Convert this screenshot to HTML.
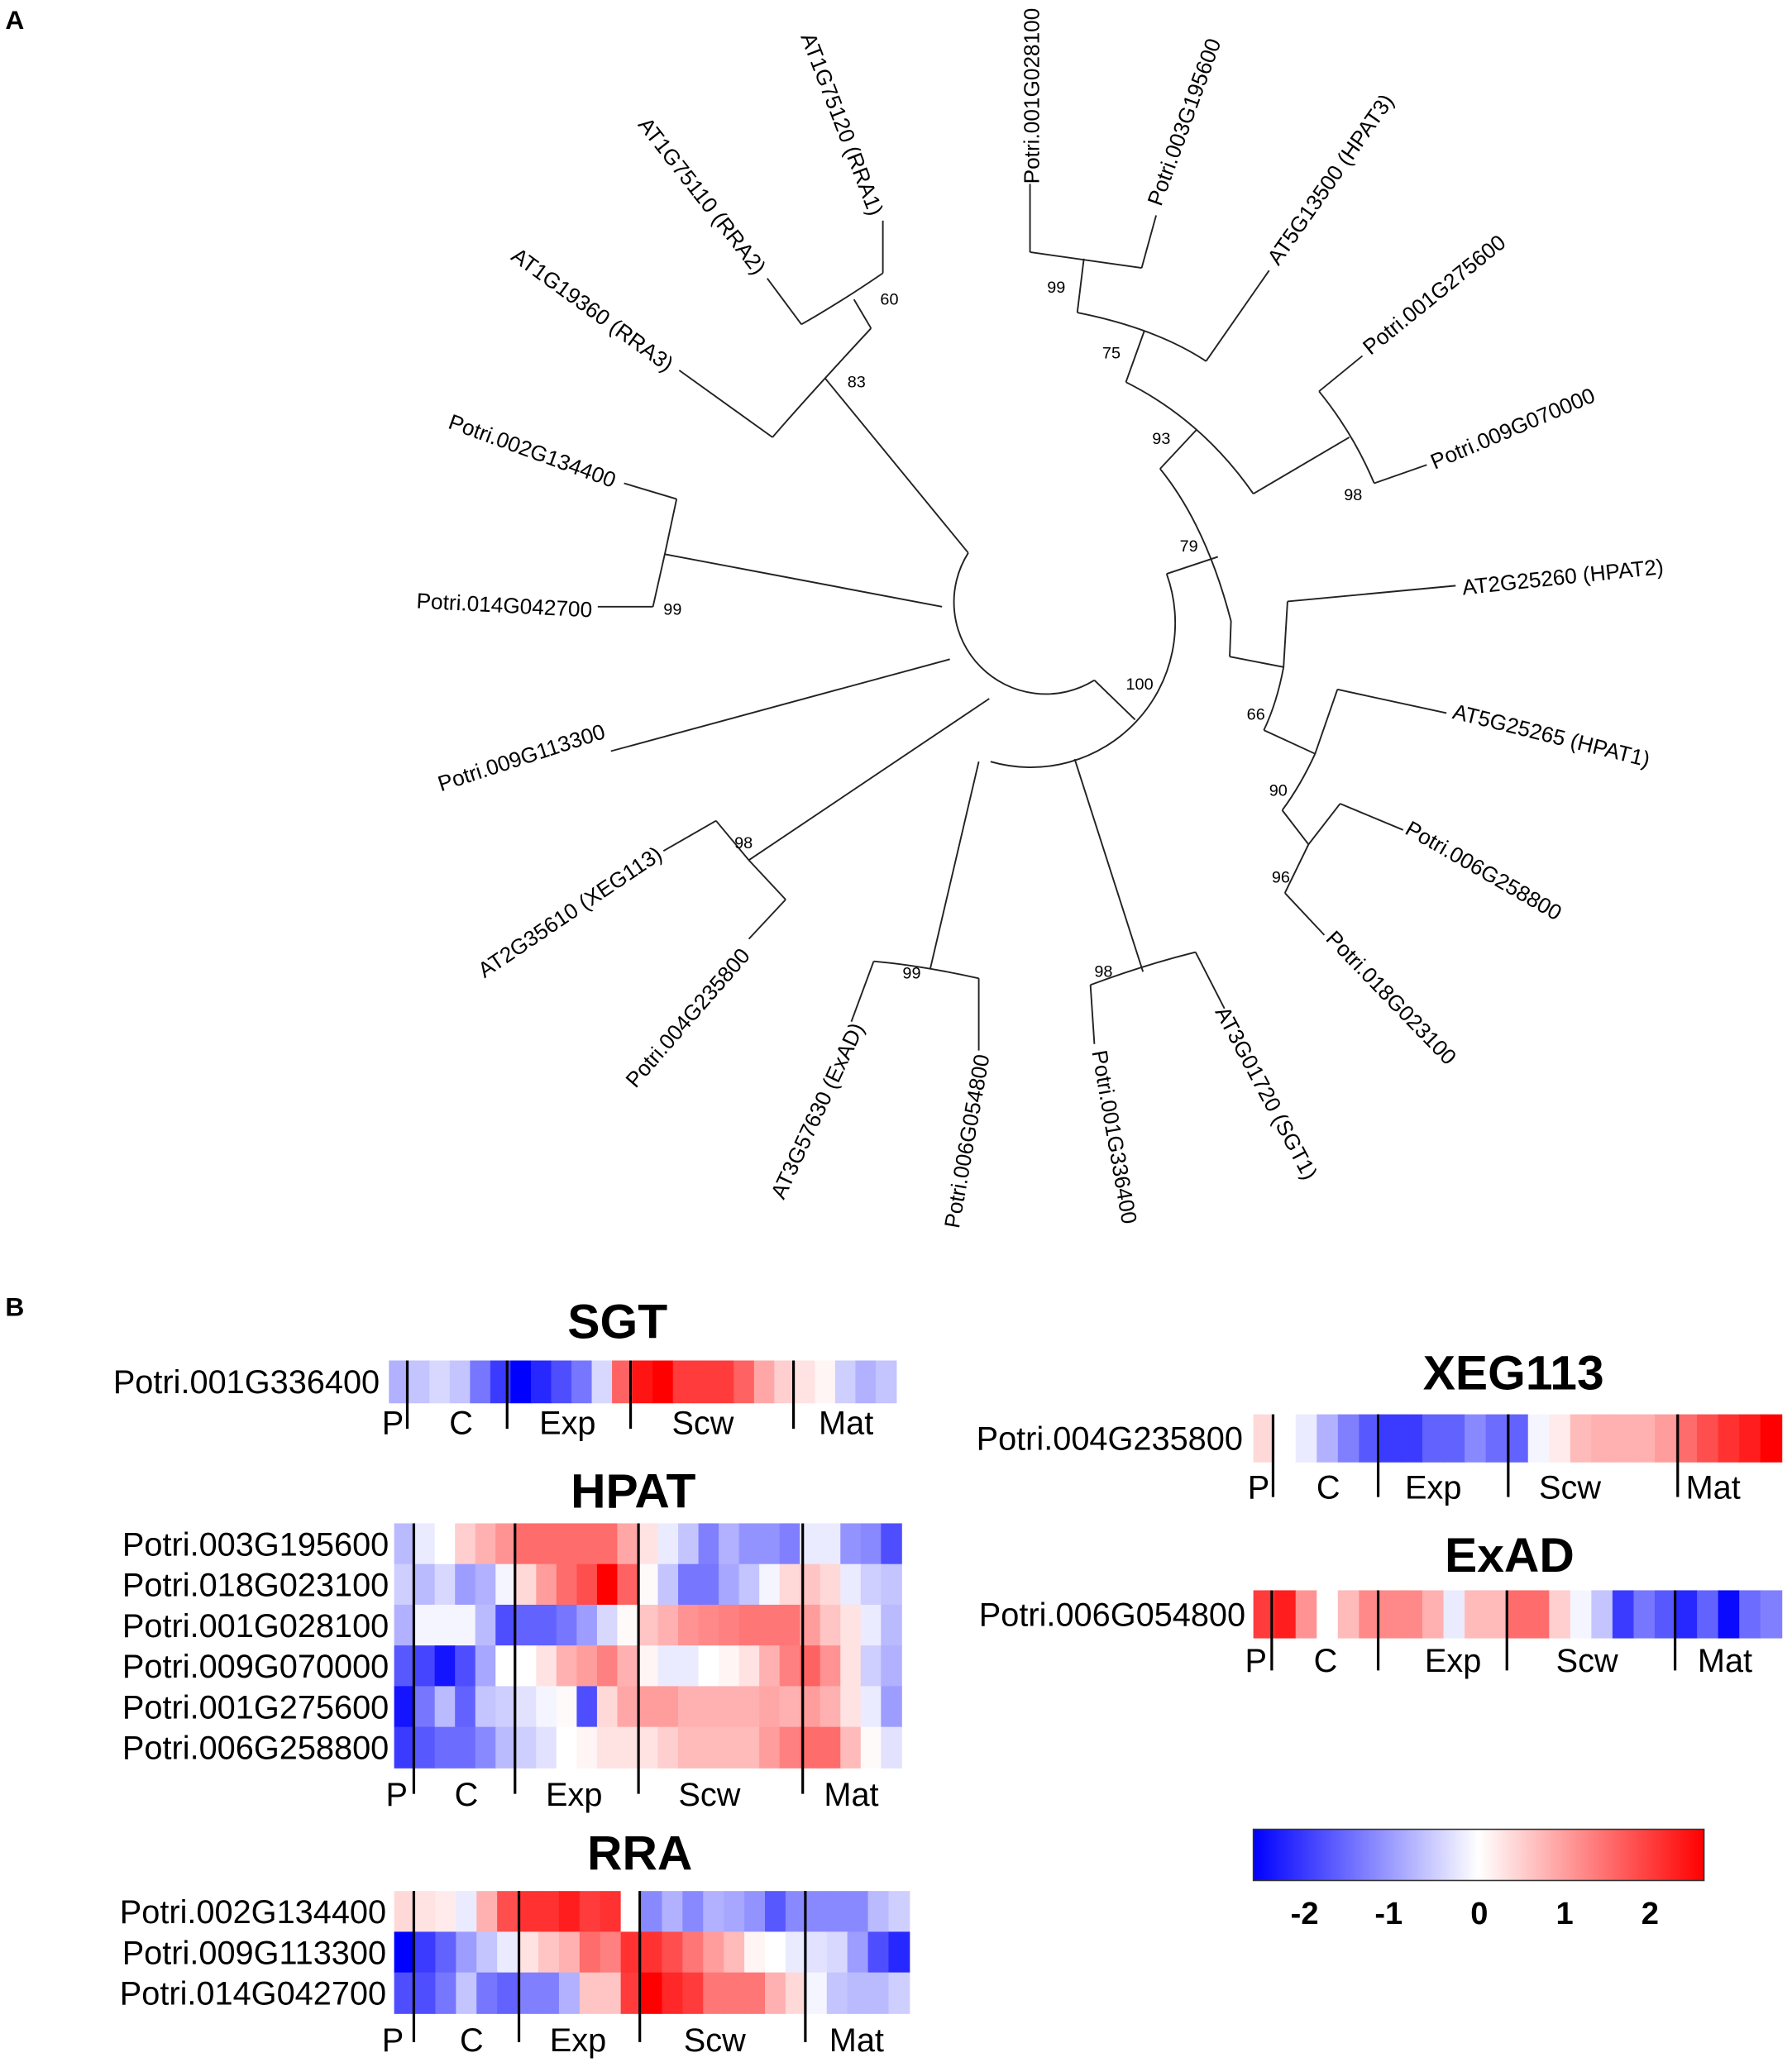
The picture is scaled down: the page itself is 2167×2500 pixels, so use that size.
<!DOCTYPE html>
<html><head><meta charset="utf-8"><style>
html,body{margin:0;padding:0;background:#fff}
svg{display:block}
text{font-family:"Liberation Sans",Arial,sans-serif;fill:#000}
.leaf{font-size:16.5px}
.bs{font-size:12.5px}
.rl{font-size:25px}
.ttl{font-size:37px;font-weight:bold}
.st{font-size:25px}
.tr{fill:none;stroke:#222;stroke-width:1.2}
</style></head><body>
<svg id="fig" width="2167" height="2500" viewBox="0 0 1364 1574" preserveAspectRatio="none" xmlns="http://www.w3.org/2000/svg">
<text x="4" y="22" style="font-size:20px;font-weight:bold">A</text>
<text x="4" y="1002" style="font-size:20px;font-weight:bold">B</text>
<g class="tr">
<path d="M737,421 A70,70 0 0 0 833,518"/>
<path d="M888,437 A110,110 0 0 1 754,580"/>
<line x1="833" y1="518" x2="864" y2="548"/>
<line x1="888" y1="437" x2="927" y2="424"/>
<path d="M883,357 Q918,400 937,473 L936,500"/>
<line x1="936" y1="500" x2="977" y2="508"/>
<path d="M980,458 L977,508 Q972,535 962,556"/>
<line x1="980" y1="458" x2="1108" y2="446"/>
<line x1="962" y1="556" x2="1001" y2="574"/>
<path d="M1018,525 L1001,574 Q990,598 976,617"/>
<line x1="1018" y1="525" x2="1101" y2="543"/>
<line x1="976" y1="617" x2="996" y2="643"/>
<path d="M1020,612 L996,643 L978,680"/>
<line x1="1020" y1="612" x2="1068" y2="632"/>
<line x1="978" y1="680" x2="1008" y2="712"/>
<line x1="883" y1="357" x2="911" y2="327"/>
<path d="M857,291 Q915,320 954,376"/>
<line x1="954" y1="376" x2="1027" y2="333"/>
<path d="M1004,298 Q1030,330 1046,368"/>
<line x1="1004" y1="298" x2="1037" y2="271"/>
<line x1="1046" y1="368" x2="1086" y2="354"/>
<line x1="857" y1="291" x2="871" y2="252"/>
<path d="M820,238 Q880,250 918,275"/>
<line x1="918" y1="275" x2="966" y2="206"/>
<line x1="820" y1="238" x2="825" y2="197"/>
<path d="M784,192 L869,204"/>
<line x1="784" y1="192" x2="784" y2="140"/>
<line x1="869" y1="204" x2="880" y2="164"/>
<line x1="745" y1="580" x2="708" y2="738"/>
<path d="M665,732 Q700,735 745,745"/>
<line x1="665" y1="732" x2="648" y2="778"/>
<line x1="745" y1="745" x2="745" y2="800"/>
<line x1="818" y1="578" x2="870" y2="740"/>
<path d="M830,750 Q870,735 910,725"/>
<line x1="830" y1="750" x2="833" y2="795"/>
<line x1="910" y1="725" x2="932" y2="768"/>
<line x1="737" y1="421" x2="628" y2="288"/>
<path d="M588,333 Q612,305 663,250"/>
<line x1="588" y1="333" x2="517" y2="282"/>
<line x1="663" y1="250" x2="650" y2="228"/>
<path d="M610,247 Q640,230 672,208"/>
<line x1="610" y1="247" x2="584" y2="212"/>
<line x1="672" y1="208" x2="672" y2="168"/>
<line x1="717" y1="462" x2="506" y2="422"/>
<path d="M515,380 L506,422 L497,462"/>
<line x1="515" y1="380" x2="475" y2="368"/>
<line x1="497" y1="462" x2="455" y2="462"/>
<line x1="723" y1="502" x2="465" y2="572"/>
<line x1="753" y1="532" x2="570" y2="655"/>
<path d="M545,625 L570,655 L598,685"/>
<line x1="545" y1="625" x2="505" y2="648"/>
<line x1="598" y1="685" x2="570" y2="715"/>
</g>
<g>
<text class="leaf" transform="translate(614,26) rotate(69)" dy="5">AT1G75120 (RRA1)</text>
<text class="leaf" transform="translate(489,92) rotate(52)" dy="5">AT1G75110 (RRA2)</text>
<text class="leaf" transform="translate(391,193) rotate(36)" dy="5">AT1G19360 (RRA3)</text>
<text class="leaf" transform="translate(342,321) rotate(20)" dy="5">Potri.002G134400</text>
<text class="leaf" transform="translate(317,458) rotate(3)" dy="5">Potri.014G042700</text>
<text class="leaf" transform="translate(334,598) rotate(-18)" dy="5">Potri.009G113300</text>
<text class="leaf" transform="translate(366,741) rotate(-34)" dy="5">AT2G35610 (XEG113)</text>
<text class="leaf" transform="translate(480,826) rotate(-49)" dy="5">Potri.004G235800</text>
<text class="leaf" transform="translate(592,912) rotate(-65)" dy="5">AT3G57630 (ExAD)</text>
<text class="leaf" transform="translate(725,935) rotate(-80)" dy="5">Potri.006G054800</text>
<text class="leaf" transform="translate(836,800) rotate(80)" dy="5">Potri.001G336400</text>
<text class="leaf" transform="translate(929,768) rotate(62)" dy="5">AT3G01720 (SGT1)</text>
<text class="leaf" transform="translate(1012,712) rotate(46)" dy="5">Potri.018G023100</text>
<text class="leaf" transform="translate(1071,630) rotate(30)" dy="5">Potri.006G258800</text>
<text class="leaf" transform="translate(1106,542) rotate(14)" dy="5">AT5G25265 (HPAT1)</text>
<text class="leaf" transform="translate(1113,448) rotate(-6)" dy="5">AT2G25260 (HPAT2)</text>
<text class="leaf" transform="translate(1090,353) rotate(-23)" dy="5">Potri.009G070000</text>
<text class="leaf" transform="translate(1040,267) rotate(-39)" dy="5">Potri.001G275600</text>
<text class="leaf" transform="translate(969,200) rotate(-55)" dy="5">AT5G13500 (HPAT3)</text>
<text class="leaf" transform="translate(879,156) rotate(-70)" dy="5">Potri.003G195600</text>
<text class="leaf" transform="translate(786,140) rotate(-90)" dy="5">Potri.001G028100</text>
</g>
<g>
<text class="bs" x="670" y="232">60</text><text class="bs" x="645" y="295">83</text>
<text class="bs" x="505" y="468">99</text><text class="bs" x="559" y="646">98</text>
<text class="bs" x="687" y="745">99</text><text class="bs" x="833" y="744">98</text>
<text class="bs" x="857" y="525">100</text><text class="bs" x="949" y="548">66</text>
<text class="bs" x="966" y="606">90</text><text class="bs" x="968" y="672">96</text>
<text class="bs" x="898" y="420">79</text><text class="bs" x="877" y="338">93</text>
<text class="bs" x="1023" y="381">98</text><text class="bs" x="839" y="273">75</text>
<text class="bs" x="797" y="223">99</text>
</g>
<g id="heat"></g>
<g>
<defs><linearGradient id="cg" x1="0" x2="1"><stop offset="0" stop-color="#0000ff"/><stop offset="0.5" stop-color="#ffffff"/><stop offset="1" stop-color="#ff0000"/></linearGradient></defs>
<rect x="954" y="1393" width="343" height="39" fill="url(#cg)" stroke="#333" stroke-width="1"/>
<g text-anchor="middle">
<text x="993" y="1465" style="font-size:24px;font-weight:bold">-2</text>
<text x="1057" y="1465" style="font-size:24px;font-weight:bold">-1</text>
<text x="1126" y="1465" style="font-size:24px;font-weight:bold">0</text>
<text x="1191" y="1465" style="font-size:24px;font-weight:bold">1</text>
<text x="1256" y="1465" style="font-size:24px;font-weight:bold">2</text>
</g>
</g>
</svg>
<script>
const stages = ["P","C","Exp","Scw","Mat"];
const sgtGenes = ["Potri.001G336400"];
const sgtValues = [[-0.8,-0.6,-0.4,-0.6,-1.4,-2.0,-2.6,-2.2,-1.8,-1.4,-0.4,1.6,2.4,2.6,2.0,2.0,2.0,1.6,0.9,0.5,0.3,0.1,-0.5,-0.8,-0.6]];
const hpatGenes = ["Potri.003G195600","Potri.018G023100","Potri.001G028100","Potri.009G070000","Potri.001G275600","Potri.006G258800"];
const hpatValues = [
[-0.7,-0.2,0,0.5,0.8,1.1,1.5,1.5,1.5,1.5,1.5,0.9,0.3,-0.2,-0.6,-1.3,-0.8,-1.1,-1.1,-1.3,-0.2,-0.2,-1.1,-1.2,-1.8],
[-0.5,-0.7,-0.4,-1.0,-0.8,-0.1,0.4,1.0,1.5,1.8,2.6,1.6,0.05,-0.6,-1.4,-1.4,-0.9,-0.6,-0.1,0.4,0.6,0.4,-0.2,-0.5,-0.6],
[-0.8,-0.1,-0.1,-0.1,-0.7,-1.8,-1.6,-1.6,-1.4,-1.0,-0.4,0.05,0.6,0.8,1.1,1.2,1.3,1.4,1.4,1.4,1.0,0.6,0.3,-0.2,-0.7],
[-1.7,-1.9,-2.4,-1.8,-0.9,0,0,0.3,0.8,1.0,1.3,0.8,0.1,-0.2,-0.2,0,0.1,0.3,0.8,1.3,1.6,1.1,0.3,-0.5,-0.8],
[-2.4,-1.4,-0.7,-1.6,-0.6,-0.5,-0.3,-0.1,0.05,-1.8,0.4,0.9,1.0,1.0,0.8,0.8,0.8,0.8,0.9,0.8,1.0,0.8,0.3,-0.2,-1.0],
[-2.0,-1.7,-1.5,-1.5,-1.2,-0.7,-0.5,-0.3,0,0.1,0.3,0.3,0.3,0.5,0.7,0.7,0.7,0.7,1.0,1.3,1.5,1.5,0.7,0.05,-0.3]];
const rraGenes = ["Potri.002G134400","Potri.009G113300","Potri.014G042700"];
const rraValues = [
[0.4,0.3,0.2,-0.2,0.8,1.8,2.1,2.1,2.3,2.0,2.1,0,-1.2,-0.8,-1.2,-0.8,-0.9,-1.1,-1.7,-1.2,-1.2,-1.2,-1.2,-0.7,-0.5],
[-2.6,-2.0,-1.6,-1.0,-0.6,-0.2,0.3,0.6,0.8,1.5,1.3,2.1,2.1,1.8,1.4,1.0,0.7,0.1,0,-0.2,-0.3,-0.4,-1.0,-1.8,-2.2],
[-1.8,-1.8,-1.4,-0.6,-1.4,-1.6,-1.3,-1.3,-0.8,0.6,0.6,2.0,2.6,2.2,2.0,1.4,1.4,1.4,0.8,0.4,-0.1,-0.6,-0.7,-0.7,-0.5]];
const xegGenes = ["Potri.004G235800"];
const xegValues = [[0.4,0,-0.2,-0.8,-1.3,-1.7,-2.0,-2.0,-1.6,-1.6,-1.2,-1.5,-1.6,-0.1,0.2,0.7,0.8,0.8,0.8,1.0,1.5,1.8,2.1,2.3,2.6]];
const exadGenes = ["Potri.006G054800"];
const exadValues = [[2.0,2.3,1.1,0,0.7,1.2,1.2,1.2,0.8,-0.2,0.7,0.7,1.5,1.5,0.5,-0.1,-0.6,-2.0,-1.4,-1.7,-2.2,-1.6,-2.5,-1.5,-1.3]];

const NS="http://www.w3.org/2000/svg";
const VMAX=2.6;
function colorOf(v){
  let t=Math.max(-1,Math.min(1,v/VMAX));
  let r,g,b;
  if(t<0){r=Math.round(255*(1+t));g=r;b=255;}else{r=255;g=Math.round(255*(1-t));b=g;}
  return `rgb(${r},${g},${b})`;
}
function mk(tag,attrs,parent){const e=document.createElementNS(NS,tag);for(const k in attrs)e.setAttribute(k,attrs[k]);parent.appendChild(e);return e;}
const root=document.getElementById('heat');
function heatmap(cfg){
  const g=mk('g',{},root);
  
  
  const t=mk('text',{x:cfg.titleX,y:cfg.titleY,'text-anchor':'middle',class:'ttl'},g);
  t.textContent=cfg.title;
  
  
  const n=cfg.values[0].length;
  const cw=(cfg.x1-cfg.x0)/n;
  cfg.values.forEach((row,ri)=>{
    const y=cfg.y0+ri*cfg.rh;
    row.forEach((v,ci)=>{
      const r=mk('rect',{x:cfg.x0+ci*cw,y:y,width:cw+0.6,height:cfg.rh+0.6,fill:colorOf(v)},g);
      
      
    });
    const lb=mk('text',{x:cfg.labelX,y:y+cfg.rh/2+9,'text-anchor':'end',class:'rl'},g);
    lb.textContent=cfg.genes[ri];
    
    
  });
  const yb=cfg.y0+cfg.values.length*cfg.rh;
  cfg.lines.forEach(lx=>{
    const l=mk('line',{x1:lx,x2:lx,y1:cfg.y0,y2:yb+cfg.lineExt,stroke:'#000','stroke-width':2},g);
    
    
  });
  stages.forEach((s,i)=>{
    const st=mk('text',{x:cfg.stageX[i],y:cfg.stageY,'text-anchor':'middle',class:'st'},g);
    st.textContent=s;
    
    
  });
}
heatmap({name:'sgt-heatmap',title:'SGT',titleX:470,titleY:1019,genes:sgtGenes,values:sgtValues,x0:296,x1:682,y0:1036,rh:32,labelX:289,lines:[310,386,480,604],lineExt:20,stageX:[299,351,432,535,644],stageY:1092});
heatmap({name:'hpat-heatmap',title:'HPAT',titleX:482,titleY:1148,genes:hpatGenes,values:hpatValues,x0:300,x1:686,y0:1160,rh:31,labelX:296,lines:[315,392,486,611],lineExt:20,stageX:[302,355,437,540,648],stageY:1375});
heatmap({name:'rra-heatmap',title:'RRA',titleX:487,titleY:1424,genes:rraGenes,values:rraValues,x0:300,x1:692,y0:1440,rh:31,labelX:294,lines:[315,395,487,613],lineExt:22,stageX:[299,359,440,544,652],stageY:1562});
heatmap({name:'xeg113-heatmap',title:'XEG113',titleX:1152,titleY:1058,genes:xegGenes,values:xegValues,x0:954,x1:1356,y0:1077,rh:36,labelX:946,lines:[969,1049,1148,1277],lineExt:27,stageX:[958,1011,1091,1195,1304],stageY:1141});
heatmap({name:'exad-heatmap',title:'ExAD',titleX:1149,titleY:1197,genes:exadGenes,values:exadValues,x0:954,x1:1356,y0:1211,rh:36,labelX:948,lines:[968,1049,1147,1275],lineExt:25,stageX:[956,1009,1106,1208,1313],stageY:1273});
</script>
</body></html>
